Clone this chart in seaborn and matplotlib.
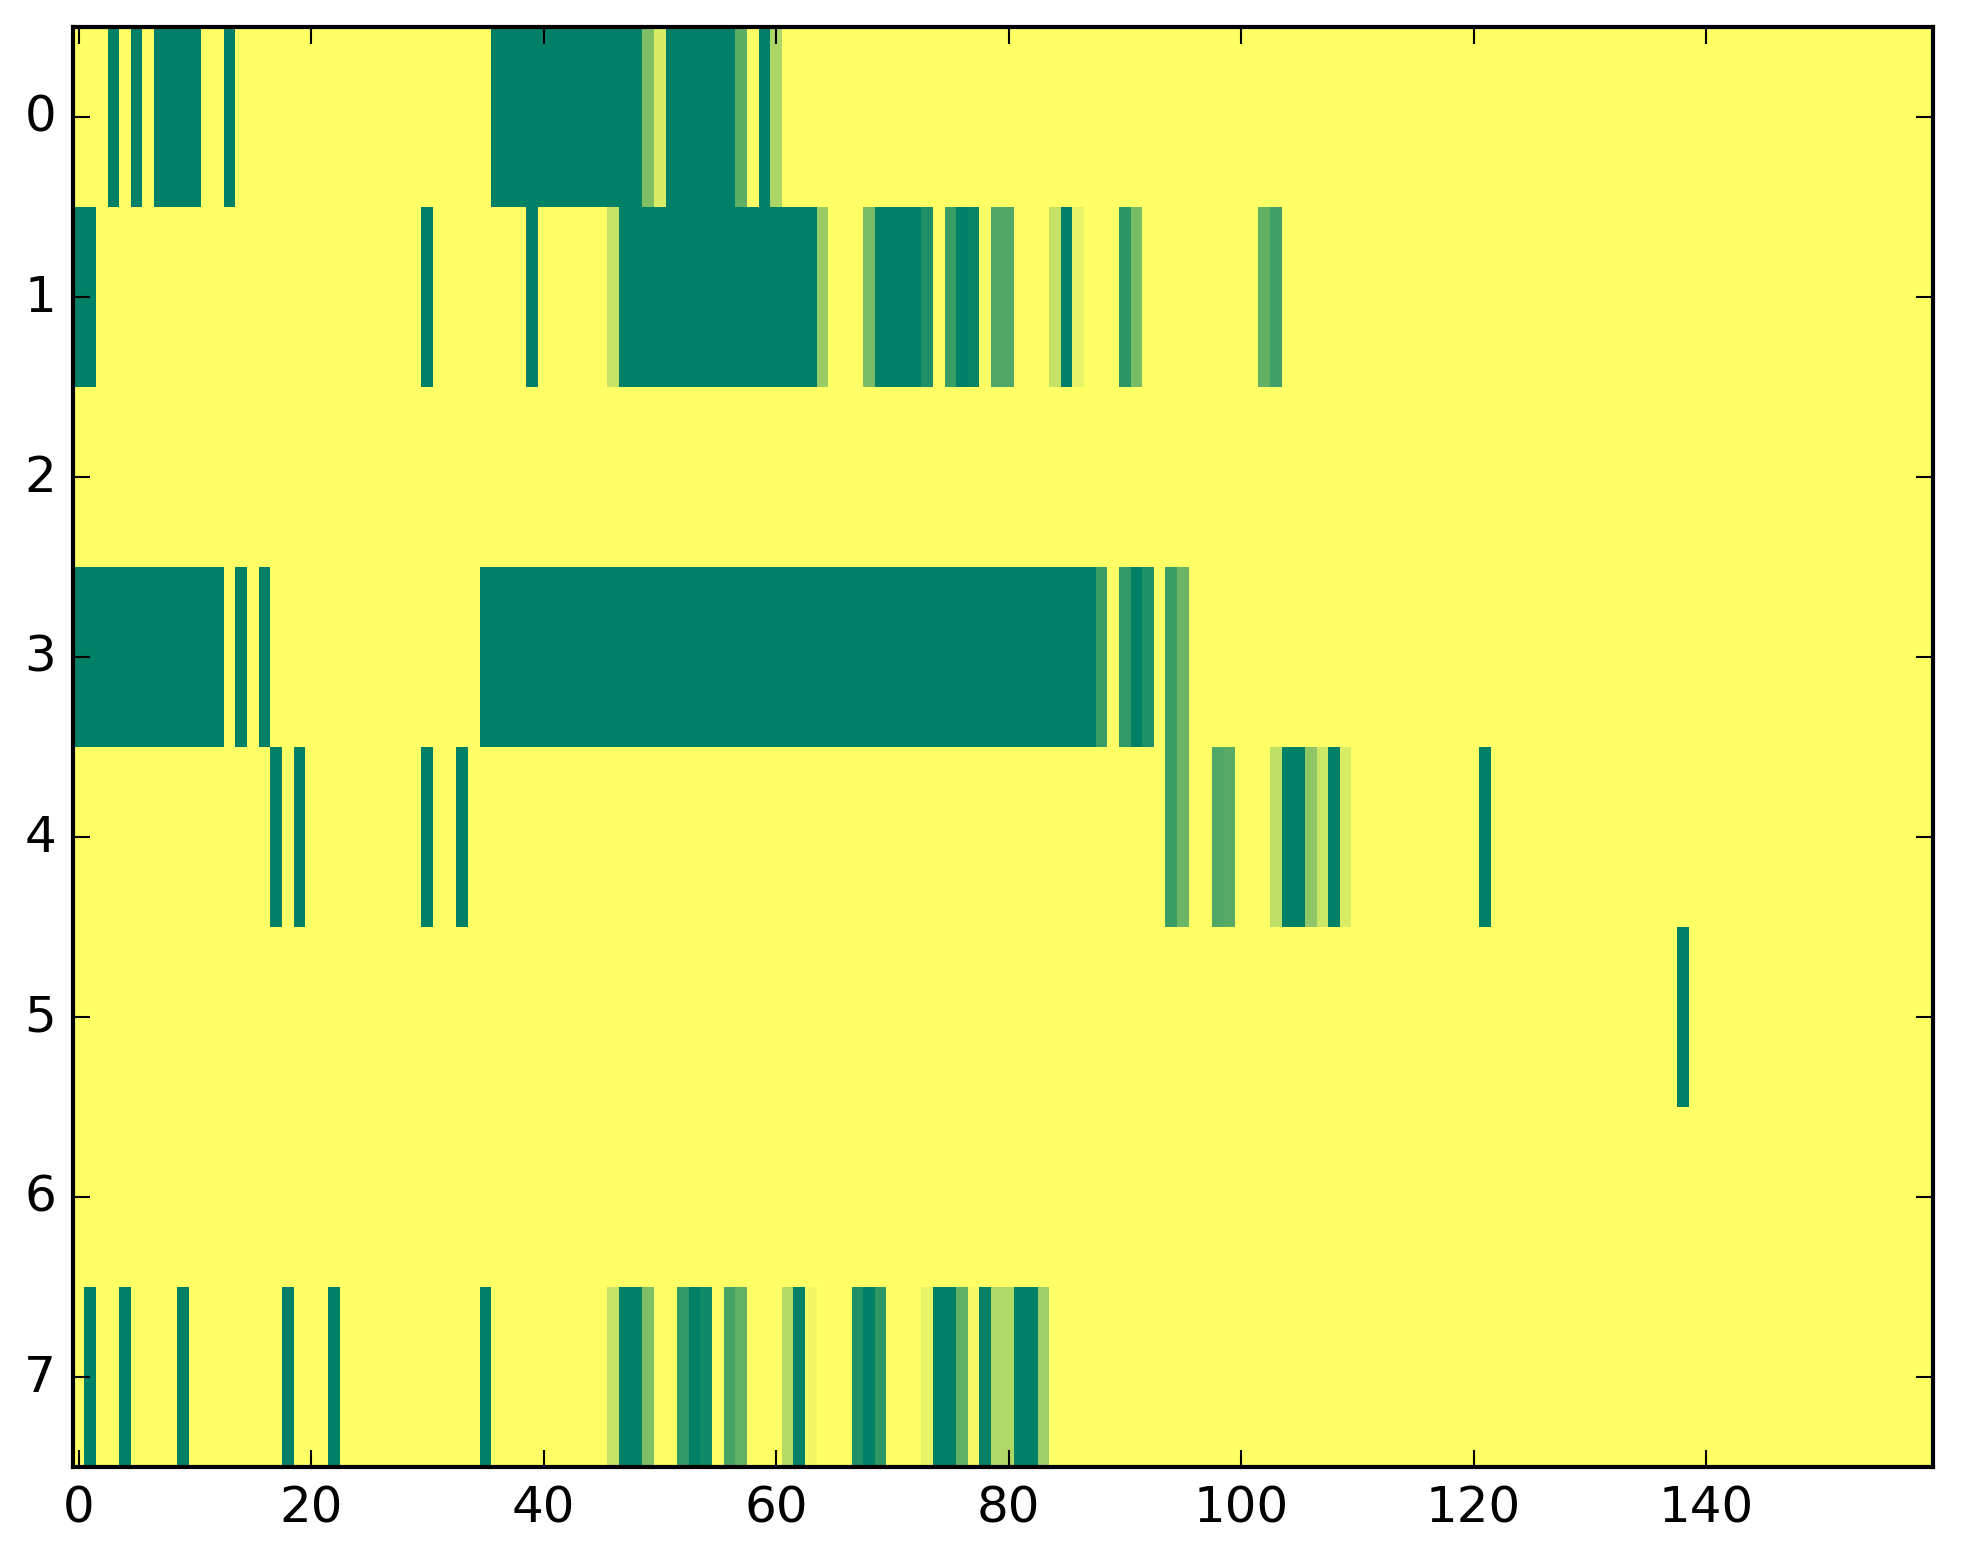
import numpy as np
import pandas as pd
import matplotlib
matplotlib.use("Agg")
import matplotlib.pyplot as plt
import seaborn as sns

n_rows = 8
n_cols = 160
row_labels = [0, 1, 2, 3, 4, 5, 6, 7]
x_tick_values = [0, 20, 40, 60, 80, 100, 120, 140]

# non-zero cells per row: column indices and values (0 = yellow, 1 = dark green)
row0_cols = [3, 5, 7, 8, 9, 10, 13] + list(range(36, 49)) + [49, 50] + list(range(51, 57)) + [57, 59, 60]
row0_vals = [1] * 7 + [1] * 13 + [0.5, 0.15] + [1] * 6 + [0.63, 1, 0.33]

row1_cols = [0, 1, 30, 39, 46] + list(range(47, 64)) + [64, 68, 69, 70, 71, 72, 73, 75, 76, 77, 79, 80,
                                                       84, 85, 86, 90, 91, 102, 103]
row1_vals = [1, 1, 1, 1, 0.22] + [1] * 17 + [0.4, 0.53, 1, 1, 1, 1, 0.88, 0.77, 1, 0.96, 0.68, 0.68,
                                            0.23, 1, 0.1, 0.83, 0.53, 0.62, 0.75]

row2_cols = []
row2_vals = []

row3_cols = list(range(0, 13)) + [14, 16] + list(range(35, 88)) + [88, 90, 91, 92, 94, 95]
row3_vals = [1] * 13 + [1, 1] + [1] * 53 + [0.77, 0.8, 1, 0.88, 0.77, 0.58]

row4_cols = [17, 19, 30, 33, 94, 95, 98, 99, 103, 104, 105, 106, 107, 108, 109, 121]
row4_vals = [1, 1, 1, 1, 0.77, 0.58, 0.68, 0.66, 0.25, 1, 1, 0.44, 0.2, 1, 0.15, 1]

row5_cols = [138]
row5_vals = [1]

row6_cols = []
row6_vals = []

row7_cols = [1, 4, 9, 18, 22, 35, 46, 47, 48, 49, 52, 53, 54, 56, 57, 61, 62, 63,
             67, 68, 69, 73, 74, 75, 76, 77, 78, 79, 80, 81, 82, 83]
row7_vals = [1, 1, 1, 1, 1, 1, 0.22, 1, 1, 0.5, 0.8, 1, 0.93, 0.73, 0.62, 0.3, 1, 0.05,
             0.88, 1, 0.82, 0.09, 1, 1, 0.62, 0.04, 1, 0.31, 0.31, 1, 1, 0.38]

rows_cols = [row0_cols, row1_cols, row2_cols, row3_cols, row4_cols, row5_cols, row6_cols, row7_cols]
rows_vals = [row0_vals, row1_vals, row2_vals, row3_vals, row4_vals, row5_vals, row6_vals, row7_vals]

matrix = np.zeros((n_rows, n_cols))
for r, (cols, vals) in enumerate(zip(rows_cols, rows_vals)):
    for c, v in zip(cols, vals):
        matrix[r, c] = v
data = pd.DataFrame(matrix, index=row_labels, columns=list(range(n_cols)))

plt.style.use("classic")
W, H = 1963, 1564
fig = plt.figure(figsize=(W / 300, H / 300), dpi=300, facecolor="white")
ax_left, ax_bottom_px, ax_w, ax_h = 72.7, 1467.7, 1860, 1440
ax = fig.add_axes([ax_left / W, (H - ax_bottom_px) / H, ax_w / W, ax_h / H])

sns.heatmap(data, cmap="summer_r", vmin=0, vmax=1, cbar=False, ax=ax,
            xticklabels=False, yticklabels=False, linewidths=0)

ax.set_xticks([t + 0.5 for t in x_tick_values])
ax.set_xticklabels([str(t) for t in x_tick_values], rotation=0)
ax.set_yticks([r + 0.5 for r in row_labels])
ax.set_yticklabels([str(r) for r in row_labels], rotation=0, va="center")
ax.set_xlim(0, n_cols)
ax.set_ylim(n_rows, 0)
ax.set_xlabel("")
ax.set_ylabel("")
for s in ax.spines.values():
    s.set_visible(True)
    s.set_linewidth(1.0)
    s.set_color("black")
ax.tick_params(direction="in", top=True, right=True, bottom=True, left=True,
               length=4, width=0.5, labelsize=12, pad=4, colors="black")
ax.tick_params(labeltop=False, labelright=False)

fig.savefig("out.png", dpi=300, facecolor="white")
